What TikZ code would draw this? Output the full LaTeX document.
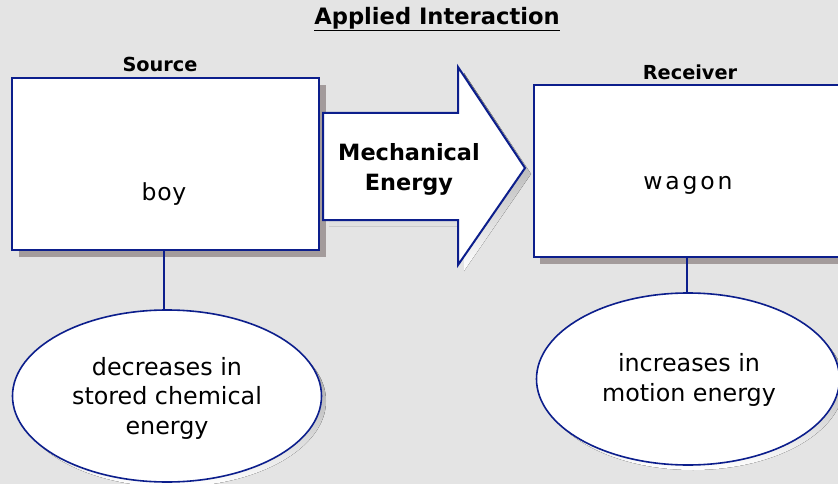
\documentclass[tikz,border=0pt]{standalone}
\usepackage{fontspec}
\setmainfont{DejaVu Sans}
\newfontfamily\spaced[LetterSpace=3]{DejaVu Sans}
\newfontfamily\widespaced[LetterSpace=12]{DejaVu Sans}
\usetikzlibrary{shapes.geometric}
\definecolor{bg}{HTML}{E4E4E4}
\definecolor{navy}{HTML}{0C1E8C}
\definecolor{shade}{HTML}{A39B9B}
\tikzset{
  x=1pt, y=-1pt,
  box/.style={draw=navy, line width=2pt, fill=white},
  boxshadow/.style={fill=shade},
  oval/.style={draw=navy, line width=1.6pt, fill=white},
  link/.style={draw=navy, line width=1.6pt},
  heading/.style={font=\fontsize{19.3}{22}\selectfont\bfseries},
  body/.style={font=\fontsize{23.5}{29}\selectfont, align=center},
  ovaltext/.style={font=\fontsize{23.8}{29.5}\selectfont, align=center},
}
\begin{document}
\begin{tikzpicture}
\useasboundingbox (0,0) rectangle (838,484);
\fill[bg] (0,0) rectangle (838,484);

% title
\node[font=\fontsize{22.6}{26}\selectfont\bfseries] (title) at (437,19) {\underline{Applied Interaction}};

% source box
\fill[boxshadow] (19,85) rectangle (326,257);
\draw[box] (12,78) rectangle (319,250);
\node[body] (boy) at (164,194) {\spaced boy};
\node[heading] (srclabel) at (160,64) {Source};

% receiver box
\fill[boxshadow] (540,91) rectangle (850,264);
\draw[box] (534,85) rectangle (850,257);
\node[body] (wagon) at (688,185) {\widespaced wagon};
\node[heading] (rcvlabel) at (690,72) {Receiver};

% energy arrow
\fill[shade] (329,119) -- (464,119) -- (464,73) -- (531,174) -- (464,271) -- (464,226) -- (329,226) -- cycle;
\draw[box, line join=miter] (323,113) -- (458,113) -- (458,67) -- (525,168) -- (458,265) -- (458,220) -- (323,220) -- cycle;
\node[font=\fontsize{22.4}{30}\selectfont\bfseries, align=center] (energy) at (409,169) {Mechanical\\Energy};

% outcome ovals
\fill[shade] (172,401) ellipse [x radius=154, y radius=86];
\node[oval, ellipse, minimum width=309pt, minimum height=172pt, inner sep=0pt] (dec) at (167,396) {};
\node[ovaltext] at (167,398) {decreases in\\stored chemical\\energy};

\fill[shade] (693,384) ellipse [x radius=151, y radius=86];
\node[oval, ellipse, minimum width=303pt, minimum height=172pt, inner sep=0pt] (inc) at (688,379) {};
\node[ovaltext] at (689,380) {increases in\\motion energy};

% connectors
\coordinate (srcbot) at (164,251);
\coordinate (rcvbot) at (687,258);
\draw[link] (srcbot) -- (srcbot |- dec.north);
\draw[link] (rcvbot) -- (rcvbot |- inc.north);
\end{tikzpicture}
\end{document}
